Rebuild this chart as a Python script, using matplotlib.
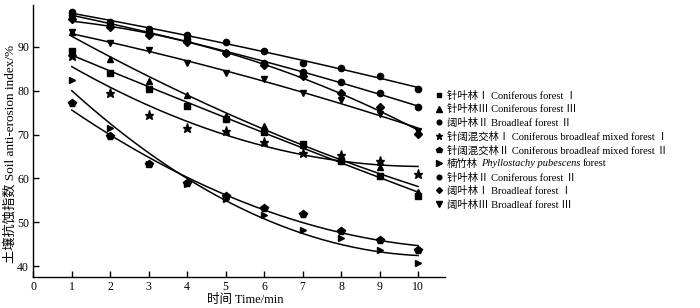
import numpy as np
import matplotlib
matplotlib.use("Agg")
import matplotlib.pyplot as plt

plt.rcParams['font.family'] = ['Liberation Serif', 'Noto Sans CJK SC', 'DejaVu Sans']

time_min = [1, 2, 3, 4, 5, 6, 7, 8, 9, 10]

conif_1 = [89.0, 84.1, 80.5, 76.5, 73.6, 70.6, 67.9, 63.9, 60.6, 56.0]
conif_3 = [93.4, 87.3, 82.3, 79.1, 74.2, 71.9, 67.7, 64.5, 62.5, 56.8]
broad_2 = [98.0, 95.7, 94.2, 92.7, 91.1, 89.0, 86.4, 85.1, 83.3, 80.5]
mixed_1 = [88.0, 79.5, 74.4, 71.4, 70.8, 68.3, 65.9, 65.3, 63.9, 60.9]
mixed_2 = [77.1, 69.6, 63.2, 59.0, 56.0, 53.3, 51.9, 48.0, 45.9, 43.6]
bamboo = [82.4, 71.4, 63.4, 58.8, 55.4, 51.6, 48.3, 46.3, 43.6, 40.8]
conif_2 = [97.2, 95.2, 93.4, 91.9, 88.6, 86.3, 84.3, 82.0, 79.5, 76.3]
broad_1 = [96.3, 94.6, 92.7, 91.1, 88.6, 85.8, 83.3, 79.4, 76.3, 70.2]
broad_3 = [93.4, 90.8, 89.2, 86.3, 84.1, 82.6, 79.4, 77.8, 74.8, 70.8]

labels = [
    '针叶林Ⅰ Coniferous forest Ⅰ',
    '针叶林Ⅲ Coniferous forest Ⅲ',
    '阔叶林Ⅱ Broadleaf forest Ⅱ',
    '针阔混交林Ⅰ Coniferous broadleaf mixed forest Ⅰ',
    '针阔混交林Ⅱ Coniferous broadleaf mixed forest Ⅱ',
    '楠竹林',
    '针叶林Ⅱ Coniferous forest Ⅱ',
    '阔叶林Ⅰ Broadleaf forest Ⅰ',
    '阔叶林Ⅲ Broadleaf forest Ⅲ',
]
series = [conif_1, conif_3, broad_2, mixed_1, mixed_2, bamboo, conif_2, broad_1, broad_3]
markers = ['s', '^', 'o', '*', 'p', '>', 'o', 'D', 'v']
msizes = [4.0, 5.0, 4.5, 6.5, 5.5, 5.0, 4.5, 4.0, 5.0]

fig = plt.figure(figsize=(7.0, 3.08), dpi=100)
ax = fig.add_axes([0.0476, 0.1016, 0.6357 - 0.0476, 0.984 - 0.1016])

x = np.array(time_min, dtype=float)
xf = np.linspace(1, 10, 200)
handles = []
for ys, m, ms, lab in zip(series, markers, msizes, labels):
    ys = np.array(ys)
    coef = np.polyfit(x, ys, 2)
    ax.plot(xf, np.polyval(coef, xf), color='black', lw=1.1)
    h, = ax.plot(x, ys, linestyle='none', marker=m, ms=ms, color='black', label=lab)
    handles.append(h)

ax.set_xlim(0, 10.7)
ax.set_ylim(37.56, 99.6)
ax.set_xticks(range(0, 11))
ax.set_yticks([40, 50, 60, 70, 80, 90])
for s in ['top', 'right']:
    ax.spines[s].set_visible(False)
for s in ['left', 'bottom']:
    ax.spines[s].set_linewidth(1.0)
ax.tick_params(direction='in', length=4, width=1, labelsize=8.5, pad=3)
ax.set_xlabel('时间 Time/min', fontsize=9, labelpad=2)
ax.set_ylabel('土壤抗蚀指数 Soil anti-erosion index/%', fontsize=9.5)
ax.xaxis.set_label_coords(0.515, -0.065)
ax.yaxis.set_label_coords(-0.041, 0.45)

leg = fig.legend(handles=handles, loc='upper left', bbox_to_anchor=(0.622, 0.706),
                 frameon=False, fontsize=7.5, handlelength=0.6, handletextpad=0.5,
                 labelspacing=0.34, borderpad=0, borderaxespad=0, markerscale=0.75)

fig.canvas.draw()
renderer = fig.canvas.get_renderer()
t6 = leg.get_texts()[5]
bb = t6.get_window_extent(renderer)
W, H = fig.bbox.width, fig.bbox.height
yc = (bb.y0 + bb.y1) / 2 / H
it = fig.text(bb.x1 / W + 0.004, yc, 'Phyllostachy pubescens', fontsize=7.5,
              style='italic', va='center', ha='left', family=['Liberation Serif'])
fig.canvas.draw()
bb2 = it.get_window_extent(renderer)
fig.text(bb2.x1 / W + 0.004, yc, 'forest', fontsize=7.5, va='center', ha='left',
         family=['Liberation Serif'])

fig.savefig('out.png', dpi=100)
